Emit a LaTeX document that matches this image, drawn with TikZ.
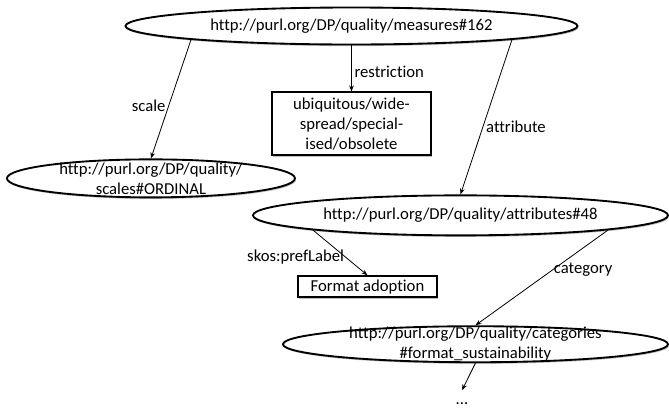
\documentclass[tikz,border=0pt]{standalone}
\usepackage{fontspec}
\setmainfont{Carlito}[Ligatures=NoCommon]
\usepackage{tikz}
\usetikzlibrary{positioning,arrows.meta,shapes.geometric,shadows}
\tikzset{
  uri/.style={draw,ellipse,line width=1.4pt,fill=white,inner xsep=0pt,align=center,font=\fontsize{12.5}{15}\selectfont,
    drop shadow={shadow xshift=0.8pt,shadow yshift=-1.2pt,opacity=0.5}},
  lit/.style={draw,rectangle,line width=1.3pt,fill=white,inner sep=1pt,align=center,font=\fontsize{12.5}{15}\selectfont,
    drop shadow={shadow xshift=1pt,shadow yshift=-1pt,opacity=0.5}},
  lbl/.style={inner sep=2pt,font=\fontsize{12.5}{15}\selectfont},
}
\begin{document}
\begin{tikzpicture}[>={Stealth[length=4.5pt,width=3.5pt]},line width=0.6pt]
  \useasboundingbox (0,0) rectangle (501.75pt,-306pt);
  % measure and what hangs from it
  \node[uri,minimum width=339pt,minimum height=27.75pt] (m162) at (263.6pt,-19.5pt) {http://purl.org/DP/quality/measures\#162};
  \node[lit,below=34.5pt of m162,minimum width=119.25pt,minimum height=47.25pt] (res) {ubiquitous/wide-\\ spread/special-\\ ised/obsolete};
  \node[uri,inner ysep=-4pt,below=84.75pt of m162,xshift=-150.4pt,minimum width=216pt,minimum height=28.5pt] (ord) {http://purl.org/DP/quality/\\ scales\#ORDINAL};
  \node[uri,below=111.75pt of m162,xshift=81.75pt,minimum width=311.25pt,minimum height=30pt] (a48) {http://purl.org/DP/quality/attributes\#48};

  % attribute level
  \node[lit,below=29.25pt of a48,xshift=-69.75pt,minimum width=104.25pt,minimum height=15.75pt] (fmt) {Format adoption};
  \node[uri,inner ysep=-4pt,below=66.75pt of a48,xshift=11.25pt,minimum width=288.75pt,minimum height=27pt] (fs) {http://purl.org/DP/quality/categories\\ \#format\_sustainability};
  \node[lbl,text height=9.5pt,text depth=0pt,inner sep=1pt,below=20.25pt of fs,xshift=-10.1pt] (more) {...};

  \draw[->] (m162.south) -- node[lbl,right,pos=0.57]{restriction} (res.north);
  \draw[->] (m162.south west) -- node[lbl,left,pos=0.56]{scale} (ord.north);
  \draw[->] (m162.south east) -- node[lbl,right,pos=0.56]{attribute} (a48.north);
  \draw[->] (a48.south west) -- node[lbl,left,pos=0.6,inner sep=1pt]{skos:prefLabel} (fmt.north);
  \draw[->] (a48.south east) -- node[lbl,right,pos=0.42,inner sep=1pt]{category} (fs.north);
  \draw[->] (fs.south) -- (more.north);
\end{tikzpicture}
\end{document}
